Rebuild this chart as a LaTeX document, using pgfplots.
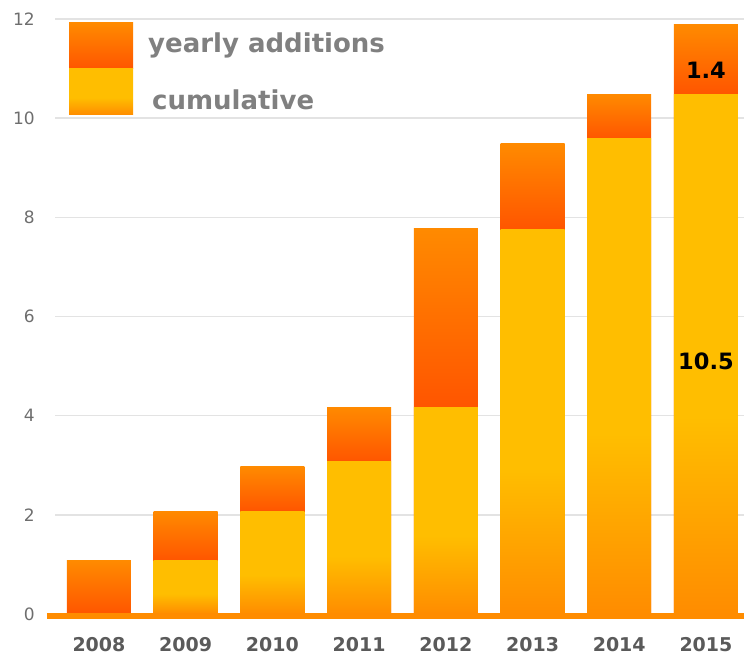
\documentclass[border=0pt]{standalone}
\usepackage{fontspec}
\setmainfont{DejaVu Sans}
\usepackage{pgfplots}
\pgfplotsset{compat=1.18}
\definecolor{addTop}{HTML}{FF8A00}
\definecolor{addBot}{HTML}{FF5500}
\definecolor{cumTop}{HTML}{FFBE00}
\definecolor{cumBot}{HTML}{FF8C00}
\definecolor{gridc}{HTML}{E3E3E3}
\definecolor{ticky}{HTML}{6E6E6E}
\definecolor{tickx}{HTML}{5A5A5A}
\definecolor{legc}{HTML}{808080}
\definecolor{baseln}{HTML}{FF8C00}
% cumulative bars: yellow, fading to orange near the base
\pgfdeclareverticalshading{cumsh}{100bp}{color(0bp)=(cumBot); color(25bp)=(cumBot); color(44bp)=(cumTop); color(100bp)=(cumTop)}
% yearly additions: gradient over the added segment only
\pgfdeclareverticalshading{addA}{100bp}{color(0bp)=(addBot); color(25bp)=(addBot); color(75bp)=(addTop); color(100bp)=(addTop)}
\pgfdeclareverticalshading{addB}{100bp}{color(0bp)=(addBot); color(50.8bp)=(addBot); color(75bp)=(addTop); color(100bp)=(addTop)}
\pgfdeclareverticalshading{addC}{100bp}{color(0bp)=(addBot); color(59.8bp)=(addBot); color(75bp)=(addTop); color(100bp)=(addTop)}
\pgfdeclareverticalshading{addD}{100bp}{color(0bp)=(addBot); color(61.8bp)=(addBot); color(75bp)=(addTop); color(100bp)=(addTop)}
\pgfdeclareverticalshading{addE}{100bp}{color(0bp)=(addBot); color(51.8bp)=(addBot); color(75bp)=(addTop); color(100bp)=(addTop)}
\pgfdeclareverticalshading{addF}{100bp}{color(0bp)=(addBot); color(65.9bp)=(addBot); color(75bp)=(addTop); color(100bp)=(addTop)}
\pgfdeclareverticalshading{addG}{100bp}{color(0bp)=(addBot); color(70.7bp)=(addBot); color(75bp)=(addTop); color(100bp)=(addTop)}
\pgfdeclareverticalshading{addH}{100bp}{color(0bp)=(addBot); color(69.1bp)=(addBot); color(75bp)=(addTop); color(100bp)=(addTop)}
\pgfplotsset{mybar/.style={ybar, bar width=64pt, bar shift=0pt, draw=none, shade, shading=#1}}
\begin{document}
\begin{tikzpicture}[x=1pt,y=1pt]
\begin{axis}[
  scale only axis, width=689pt, height=595pt,
  xmin=-0.507, xmax=7.439, ymin=0, ymax=12,
  axis line style={draw=none}, major tick length=0pt,
  ymajorgrids, grid style={gridc, line width=1.5pt},
  ytick={0,2,4,6,8,10,12},
  xtick={0,1,2,3,4,5,6,7},
  xticklabels={2008,2009,2010,2011,2012,2013,2014,2015},
  yticklabel style={font=\fontsize{17}{20}\selectfont, text=ticky, anchor=east, inner sep=0pt, xshift=-20pt},
  xticklabel style={font=\fontsize{19}{22}\selectfont\bfseries, text=tickx, anchor=base, inner sep=0pt, yshift=-37pt},
  /pgf/number format/assume math mode=true,
  clip=false,
]
% totals (cumulative + yearly additions), then cumulative on top
\addplot[mybar=addA] coordinates {(0,1.07)};
\addplot[mybar=addB] coordinates {(1,2.07)};
\addplot[mybar=cumsh] coordinates {(1,1.07)};
\addplot[mybar=addC] coordinates {(2,2.97)};
\addplot[mybar=cumsh] coordinates {(2,2.07)};
\addplot[mybar=addD] coordinates {(3,4.17)};
\addplot[mybar=cumsh] coordinates {(3,3.07)};
\addplot[mybar=addE] coordinates {(4,7.77)};
\addplot[mybar=cumsh] coordinates {(4,4.17)};
\addplot[mybar=addF] coordinates {(5,9.48)};
\addplot[mybar=cumsh] coordinates {(5,7.76)};
\addplot[mybar=addG] coordinates {(6,10.48)};
\addplot[mybar=cumsh] coordinates {(6,9.58)};
\addplot[mybar=addH] coordinates {(7,11.88)};
\addplot[mybar=cumsh] coordinates {(7,10.48)};
\draw[baseln, line width=6pt] (axis cs:-0.6,-0.05) -- (axis cs:7.439,-0.05);
\coordinate (L1) at (axis cs:7,10.97);
\coordinate (L2) at (axis cs:7,5.1);
\end{axis}
\node[font=\fontsize{22.5}{26}\selectfont\bfseries, text=black] at (L1) {1.4};
\node[font=\fontsize{22.5}{26}\selectfont\bfseries, text=black] at (L2) {10.5};
\coordinate (NW) at (current axis.north west);
\coordinate (SE) at (current axis.south east);
\shade[top color=addTop, bottom color=addBot] ([shift={(14,-4)}]NW) rectangle ([shift={(78,-50)}]NW);
\shade[shading=cumsh] ([shift={(14,-50)}]NW) rectangle ([shift={(78,-96)}]NW);
\node[anchor=base west, inner sep=0pt, text=legc, font=\fontsize{26}{30}\selectfont\bfseries] at ([shift={(93,-34)}]NW) {yearly additions};
\node[anchor=base west, inner sep=0pt, text=legc, font=\fontsize{26}{30}\selectfont\bfseries] at ([shift={(97,-91)}]NW) {cumulative};
\pgfresetboundingbox
\path ([shift={(-55,19)}]NW) rectangle ([shift={(0,-41)}]SE);
\end{tikzpicture}
\end{document}
